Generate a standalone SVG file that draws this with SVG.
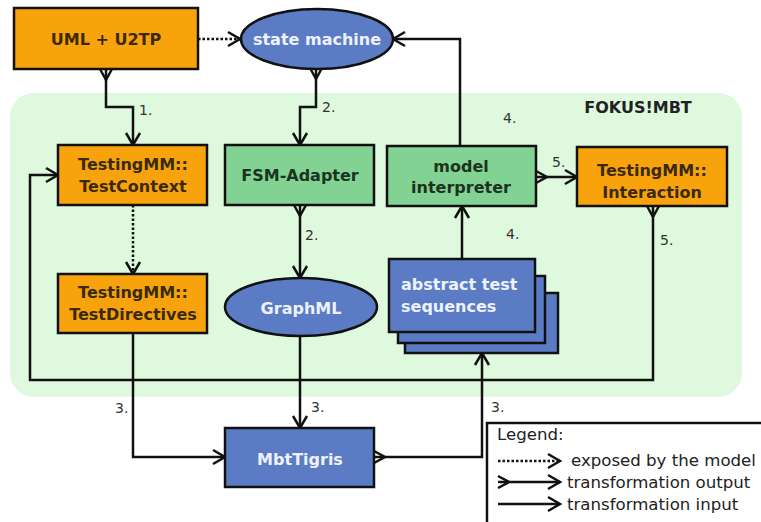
<svg xmlns="http://www.w3.org/2000/svg" width="761" height="522" viewBox="0 0 761 522">
<defs>
<style>
.n{stroke:#111;stroke-width:2.5}
.or{fill:#f9a30c}
.gr{fill:#82d293}
.bl{fill:#5b7cc4}
.t{font-family:"DejaVu Sans",Verdana,sans-serif;font-weight:bold;font-size:16px;text-anchor:middle}
.to{fill:#3a2a08}
.tg{fill:#1c3320}
.tb{fill:#eef2ff}
.c{fill:none;stroke:#111;stroke-width:2.5}
.d{stroke-dasharray:2.5,2}
.lb{font-family:"DejaVu Sans",Verdana,sans-serif;font-size:14px;fill:#333}
.lg{font-family:"DejaVu Sans",Verdana,sans-serif;font-size:16.6px;fill:#222}
</style>
<marker id="e" markerUnits="userSpaceOnUse" markerWidth="16" markerHeight="16" viewBox="0 0 16 16" refX="13" refY="8" orient="auto" overflow="visible">
<path d="M1,1 L13,8 L1,15" fill="none" stroke="#111" stroke-width="2.5"/>
</marker>
<marker id="s" markerUnits="userSpaceOnUse" markerWidth="14" markerHeight="14" viewBox="0 0 14 14" refX="0" refY="7" orient="auto" overflow="visible">
<path d="M0,1 L11,7 L0,13" fill="none" stroke="#111" stroke-width="2.5"/>
</marker>
</defs>
<rect x="0" y="0" width="761" height="522" fill="#fff"/>
<rect id="fokus" x="10" y="93" width="732" height="304" rx="24" fill="#dff9df"/>
<text x="638" y="113" class="t" fill="#222">FOKUS!MBT</text>

<g id="connectors">
<path class="c d" d="M198,39 L240,39" marker-end="url(#e)"/>
<path class="c" d="M106,69 L106,107 L133,107 L133,145" marker-start="url(#s)" marker-end="url(#e)"/>
<path class="c" d="M316,68 L316,107 L300,107 L300,145" marker-start="url(#s)" marker-end="url(#e)"/>
<path class="c" d="M460,146 L460,39 L393,39" marker-end="url(#e)"/>
<path class="c" d="M536,177 L577,177" marker-start="url(#s)" marker-end="url(#e)"/>
<path class="c d" d="M133,205 L133,274" marker-end="url(#e)"/>
<path class="c" d="M300,205 L300,278" marker-start="url(#s)" marker-end="url(#e)"/>
<path class="c" d="M462,260 L462,206" marker-end="url(#e)"/>
<path class="c" d="M653,206 L653,380 L30,380 L30,175 L58,175" marker-start="url(#s)" marker-end="url(#e)"/>
<path class="c" d="M133,333 L133,457 L225,457" marker-end="url(#e)"/>
<path class="c" d="M300,337 L300,428" marker-end="url(#e)"/>
<path class="c" d="M374,457 L482,457 L482,353" marker-start="url(#s)" marker-end="url(#e)"/>
<text class="lb" x="139" y="115">1.</text>
<text class="lb" x="322" y="112">2.</text>
<text class="lb" x="503" y="123">4.</text>
<text class="lb" x="305" y="240">2.</text>
<text class="lb" x="506" y="239">4.</text>
<text class="lb" x="552" y="167">5.</text>
<text class="lb" x="660" y="245">5.</text>
<text class="lb" x="115" y="413">3.</text>
<text class="lb" x="311" y="412">3.</text>
<text class="lb" x="491" y="412">3.</text>
</g>

<g id="uml">
<rect class="n or" x="14" y="8" width="184" height="61"/>
<text class="t to" x="106" y="45">UML + U2TP</text>
</g>
<g id="statemachine">
<ellipse class="n bl" cx="317" cy="39" rx="76" ry="30"/>
<text class="t tb" x="317" y="45">state machine</text>
</g>
<g id="testcontext">
<rect class="n or" x="58" y="145" width="149" height="60"/>
<text class="t to" x="133" y="170">TestingMM::</text>
<text class="t to" x="133" y="192">TestContext</text>
</g>
<g id="fsmadapter">
<rect class="n gr" x="225" y="145" width="149" height="60"/>
<text class="t tg" x="300" y="181">FSM-Adapter</text>
</g>
<g id="modelinterpreter">
<rect class="n gr" x="387" y="146" width="149" height="60"/>
<text class="t tg" x="461" y="172">model</text>
<text class="t tg" x="461" y="193">interpreter</text>
</g>
<g id="interaction">
<rect class="n or" x="577" y="147" width="150" height="59"/>
<text class="t to" x="652" y="176">TestingMM::</text>
<text class="t to" x="652" y="198">Interaction</text>
</g>
<g id="testdirectives">
<rect class="n or" x="58" y="274" width="149" height="59"/>
<text class="t to" x="133" y="298">TestingMM::</text>
<text class="t to" x="133" y="320">TestDirectives</text>
</g>
<g id="graphml">
<ellipse class="n bl" cx="301" cy="307" rx="76" ry="29"/>
<text class="t tb" x="301" y="314">GraphML</text>
</g>
<g id="abstracttests">
<rect class="n bl" x="405" y="293" width="153" height="60"/>
<rect class="n bl" x="398" y="276" width="147" height="67"/>
<rect class="n bl" x="389" y="259" width="146" height="73"/>
<text class="t tb" x="401" y="290" style="text-anchor:start">abstract test</text>
<text class="t tb" x="401" y="312" style="text-anchor:start">sequences</text>
</g>
<g id="mbttigris">
<rect class="n bl" x="225" y="428" width="149" height="59"/>
<text class="t tb" x="300" y="465">MbtTigris</text>
</g>

<g id="legend">
<rect x="487" y="423" width="300" height="120" fill="#fff" stroke="#111" stroke-width="2.5"/>
<text class="lg" x="497" y="440">Legend:</text>
<path class="c d" d="M498,461 L560,461" marker-end="url(#e)"/>
<path class="c" d="M498,482 L560,482" marker-start="url(#s)" marker-end="url(#e)"/>
<path class="c" d="M498,504 L560,504" marker-end="url(#e)"/>
<text class="lg" x="571" y="466">exposed by the model</text>
<text class="lg" x="567" y="488">transformation output</text>
<text class="lg" x="567" y="510">transformation input</text>
</g>
</svg>
